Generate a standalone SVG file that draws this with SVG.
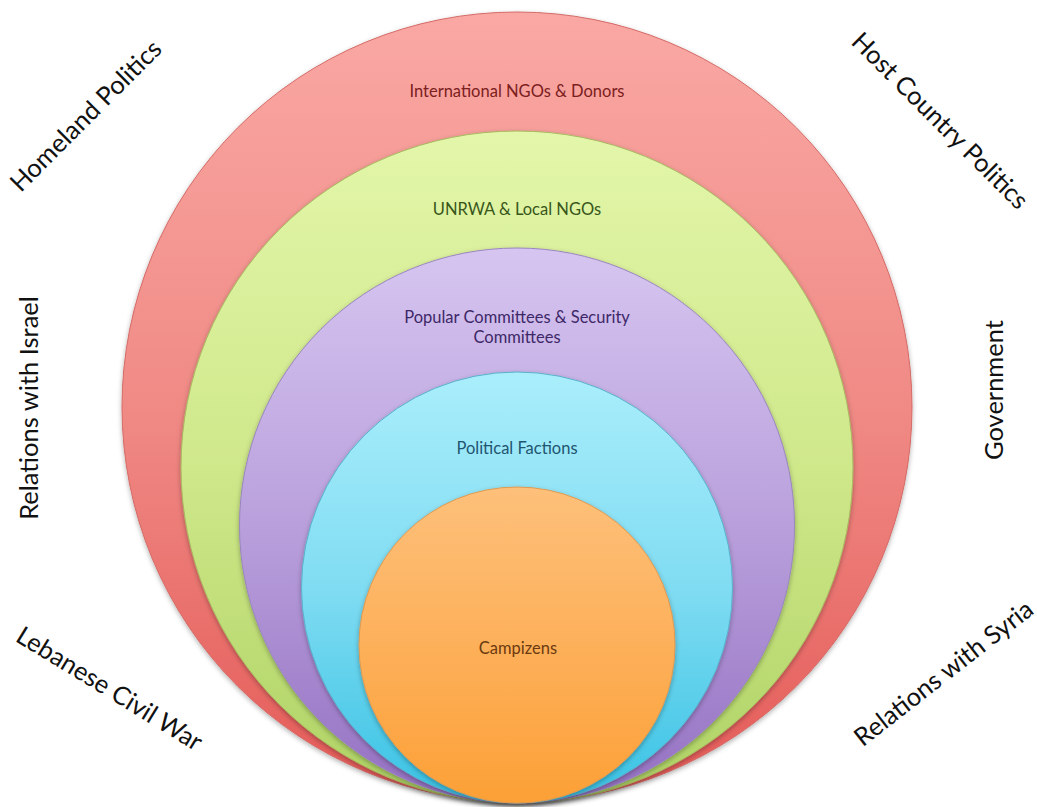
<svg xmlns="http://www.w3.org/2000/svg" width="1037" height="807" viewBox="0 0 1037 807">
<defs>
<linearGradient id="gRed" x1="0" y1="0" x2="0" y2="1"><stop offset="0" stop-color="#faa8a4"/><stop offset="0.5" stop-color="#f08a85"/><stop offset="1" stop-color="#e45a57"/></linearGradient>
<linearGradient id="gGreen" x1="0" y1="0" x2="0" y2="1"><stop offset="0" stop-color="#e3f6aa"/><stop offset="0.5" stop-color="#cfe88a"/><stop offset="1" stop-color="#aed264"/></linearGradient>
<linearGradient id="gPurple" x1="0" y1="0" x2="0" y2="1"><stop offset="0" stop-color="#d6c5f0"/><stop offset="0.5" stop-color="#b9a0dc"/><stop offset="1" stop-color="#9470c2"/></linearGradient>
<linearGradient id="gCyan" x1="0" y1="0" x2="0" y2="1"><stop offset="0" stop-color="#aaeefb"/><stop offset="0.5" stop-color="#80dcf2"/><stop offset="1" stop-color="#38c2e4"/></linearGradient>
<linearGradient id="gOrange" x1="0" y1="0" x2="0" y2="1"><stop offset="0" stop-color="#fdc07a"/><stop offset="0.5" stop-color="#fdb05a"/><stop offset="1" stop-color="#fca036"/></linearGradient>
<filter id="sh" x="-10%" y="-10%" width="120%" height="125%"><feDropShadow dx="0" dy="2" stdDeviation="2.5" flood-color="#000" flood-opacity="0.3"/></filter>
</defs>
<style>
.ring{filter:url(#sh);stroke-width:1}
.in{font-family:Lato,"Open Sans",sans-serif;font-size:16.5px;text-anchor:middle}
.out{font-family:Lato,"Open Sans",sans-serif;font-size:25.5px;fill:#111;text-anchor:middle}
</style>
<rect width="1037" height="807" fill="#fff"/>
<g id="international-ngos">
<circle class="ring" cx="517" cy="407" r="395" fill="url(#gRed)" stroke="#d46a66"/>
<text class="in" x="517" y="97" fill="#7b2020">International NGOs &amp; Donors</text>
</g>
<g id="unrwa">
<circle class="ring" cx="517" cy="467" r="336" fill="url(#gGreen)" stroke="#a8b860"/>
<text class="in" x="517" y="215" fill="#38561a">UNRWA &amp; Local NGOs</text>
</g>
<g id="popular-committees">
<circle class="ring" cx="517" cy="525.5" r="277.5" fill="url(#gPurple)" stroke="#9a86c0"/>
<text class="in" x="517" y="323" fill="#3e2868">Popular Committees &amp; Security</text>
<text class="in" x="517" y="343" fill="#3e2868">Committees</text>
</g>
<g id="political-factions">
<circle class="ring" cx="517" cy="587.5" r="215.5" fill="url(#gCyan)" stroke="#5ab0cc"/>
<text class="in" x="517" y="454" fill="#1f5570">Political Factions</text>
</g>
<g id="campizens">
<circle class="ring" cx="517" cy="645" r="158" fill="url(#gOrange)" stroke="#e09a50"/>
<text class="in" x="518" y="654" fill="#6b3a10">Campizens</text>
</g>
<g id="homeland-politics"><text class="out" transform="translate(92,122) rotate(-45)">Homeland Politics</text></g>
<g id="host-country-politics"><text class="out" transform="translate(934,127) rotate(45)">Host Country Politics</text></g>
<g id="relations-israel"><text class="out" transform="translate(38,408) rotate(-90)">Relations with Israel</text></g>
<g id="government"><text class="out" transform="translate(1003,390) rotate(-90)">Government</text></g>
<g id="lebanese-civil-war"><text class="out" transform="translate(105,696) rotate(31.5)">Lebanese Civil War</text></g>
<g id="relations-syria"><text class="out" transform="translate(949,680) rotate(-38)">Relations with Syria</text></g>
<g id="connectors"/>
</svg>
